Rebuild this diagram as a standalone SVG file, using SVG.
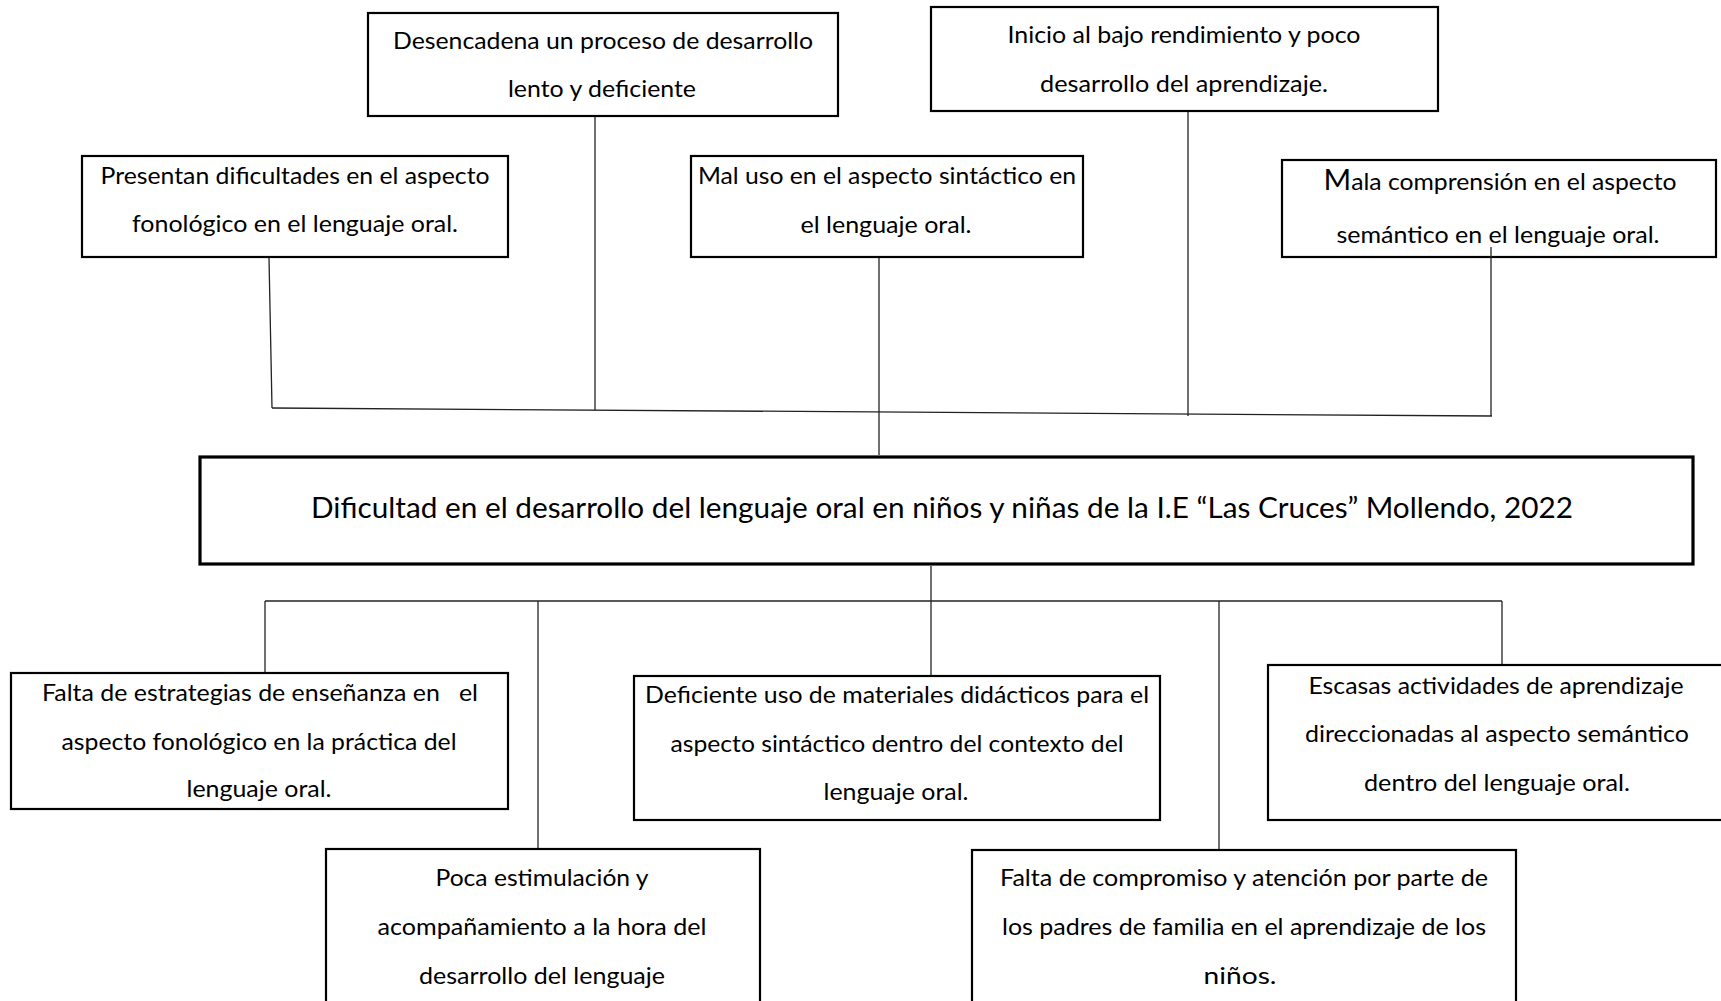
<svg xmlns="http://www.w3.org/2000/svg" width="1721" height="1001" viewBox="0 0 1721 1001">
<style>
.box{fill:#fff;stroke:#000;stroke-width:2.2}
.main{fill:#fff;stroke:#000;stroke-width:3.2}
.t{font-family:Lato,"Open Sans","Liberation Sans",sans-serif;font-size:24px;fill:#000;text-anchor:middle}
.tm{font-family:Lato,"Open Sans","Liberation Sans",sans-serif;font-size:29px;fill:#000;text-anchor:middle}
.c{stroke:#222;stroke-width:1.3;fill:none}
</style>
<rect width="1721" height="1001" fill="#fff"/>
<g id="n-desencadena">
<rect class="box" x="368" y="13" width="470" height="103"/>
<text class="t" x="603" y="49" textLength="420" lengthAdjust="spacingAndGlyphs">Desencadena un proceso de desarrollo</text>
<text class="t" x="602" y="97" textLength="188" lengthAdjust="spacingAndGlyphs">lento y deficiente</text>
</g>
<g id="n-inicio">
<rect class="box" x="931" y="7" width="507" height="104"/>
<text class="t" x="1184" y="43" textLength="353" lengthAdjust="spacingAndGlyphs">Inicio al bajo rendimiento y poco</text>
<text class="t" x="1184" y="92" textLength="288" lengthAdjust="spacingAndGlyphs">desarrollo del aprendizaje.</text>
</g>
<g id="n-presentan">
<rect class="box" x="82" y="156" width="426" height="101"/>
<text class="t" x="295" y="184" textLength="389" lengthAdjust="spacingAndGlyphs">Presentan dificultades en el aspecto</text>
<text class="t" x="295" y="232" textLength="326" lengthAdjust="spacingAndGlyphs">fonológico en el lenguaje oral.</text>
</g>
<g id="n-maluso">
<rect class="box" x="691" y="156" width="392" height="101"/>
<text class="t" x="887" y="184" textLength="378" lengthAdjust="spacingAndGlyphs">Mal uso en el aspecto sintáctico en</text>
<text class="t" x="886" y="233" textLength="171" lengthAdjust="spacingAndGlyphs">el lenguaje oral.</text>
</g>
<g id="n-mala">
<rect class="box" x="1282" y="160" width="434" height="97"/>
<text class="t" x="1500" y="190" textLength="353" lengthAdjust="spacingAndGlyphs"><tspan font-size="29">M</tspan>ala comprensión en el aspecto</text>
<text class="t" x="1498" y="243" textLength="323" lengthAdjust="spacingAndGlyphs">semántico en el lenguaje oral.</text>
</g>
<g id="n-main">
<rect class="main" x="200" y="457" width="1493" height="107"/>
<text class="tm" x="942" y="518" textLength="1262" lengthAdjust="spacingAndGlyphs">Dificultad en el desarrollo del lenguaje oral en niños y niñas de la I.E “Las Cruces” Mollendo, 2022</text>
</g>
<g id="n-estrategias">
<rect class="box" x="11" y="673" width="497" height="136"/>
<text class="t" x="260" y="701" textLength="436" lengthAdjust="spacingAndGlyphs" xml:space="preserve">Falta de estrategias de enseñanza en   el</text>
<text class="t" x="259" y="750" textLength="395" lengthAdjust="spacingAndGlyphs">aspecto fonológico en la práctica del</text>
<text class="t" x="259" y="797" textLength="145" lengthAdjust="spacingAndGlyphs">lenguaje oral.</text>
</g>
<g id="n-deficiente">
<rect class="box" x="634" y="676" width="526" height="144"/>
<text class="t" x="897" y="703" textLength="504" lengthAdjust="spacingAndGlyphs">Deficiente uso de materiales didácticos para el</text>
<text class="t" x="897" y="752" textLength="453" lengthAdjust="spacingAndGlyphs">aspecto sintáctico dentro del contexto del</text>
<text class="t" x="896" y="800" textLength="145" lengthAdjust="spacingAndGlyphs">lenguaje oral.</text>
</g>
<g id="n-escasas">
<rect class="box" x="1268" y="665" width="470" height="155"/>
<text class="t" x="1496" y="694" textLength="375" lengthAdjust="spacingAndGlyphs">Escasas actividades de aprendizaje</text>
<text class="t" x="1497" y="742" textLength="384" lengthAdjust="spacingAndGlyphs">direccionadas al aspecto semántico</text>
<text class="t" x="1497" y="791" textLength="266" lengthAdjust="spacingAndGlyphs">dentro del lenguaje oral.</text>
</g>
<g id="n-poca">
<rect class="box" x="326" y="849" width="434" height="170"/>
<text class="t" x="542" y="886" textLength="213" lengthAdjust="spacingAndGlyphs">Poca estimulación y</text>
<text class="t" x="542" y="935" textLength="329" lengthAdjust="spacingAndGlyphs">acompañamiento a la hora del</text>
<text class="t" x="542" y="984" textLength="246" lengthAdjust="spacingAndGlyphs">desarrollo del lenguaje</text>
</g>
<g id="n-compromiso">
<rect class="box" x="972" y="850" width="544" height="170"/>
<text class="t" x="1244" y="886" textLength="488" lengthAdjust="spacingAndGlyphs">Falta de compromiso y atención por parte de</text>
<text class="t" x="1244" y="935" textLength="484" lengthAdjust="spacingAndGlyphs">los padres de familia en el aprendizaje de los</text>
<text class="t" x="1240" y="984" textLength="73" lengthAdjust="spacingAndGlyphs">niños.</text>
</g>
<g id="connectors">
<line class="c" x1="269" y1="258" x2="272" y2="408"/>
<line class="c" x1="272" y1="408" x2="1492" y2="416" stroke-width="1.8"/>
<line class="c" x1="595" y1="117" x2="595" y2="410"/>
<line class="c" x1="1188" y1="112" x2="1188" y2="416"/>
<line class="c" x1="1491" y1="247" x2="1491" y2="416"/>
<line class="c" x1="879" y1="258" x2="879" y2="455"/>
<line class="c" x1="931" y1="566" x2="931" y2="601"/>
<line class="c" x1="265" y1="601" x2="1502" y2="601"/>
<line class="c" x1="265" y1="601" x2="265" y2="672"/>
<line class="c" x1="538" y1="601" x2="538" y2="848"/>
<line class="c" x1="931" y1="601" x2="931" y2="675"/>
<line class="c" x1="1219" y1="601" x2="1219" y2="849"/>
<line class="c" x1="1502" y1="601" x2="1502" y2="664"/>
</g>
</svg>
